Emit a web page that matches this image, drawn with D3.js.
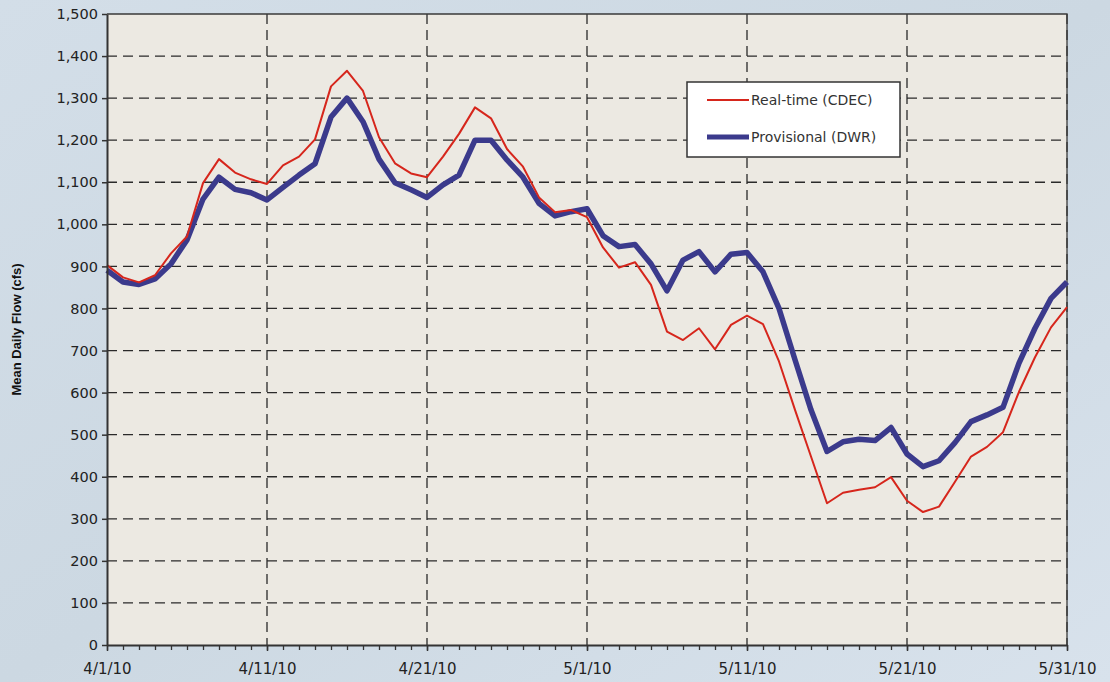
<!DOCTYPE html>
<html>
<head>
<meta charset="utf-8">
<script src="https://cdn.jsdelivr.net/npm/d3@7"></script>
<style>
  html, body { margin: 0; padding: 0; }
  body { width: 1110px; height: 682px; overflow: hidden; }
  svg { display: block; }
</style>
</head>
<body>
<svg id="chart" width="1110" height="682"></svg>
<script>
// ---- data ----
const startDate = new Date(2010, 3, 1);
const endDate = new Date(2010, 4, 31);
const days = d3.timeDay.range(startDate, d3.timeDay.offset(endDate, 1)); // 4/1/10 .. 5/31/10

const realTimeCDEC = [
  903, 874, 862, 879, 931, 971, 1098, 1155, 1123, 1107,
  1096, 1140, 1161, 1202, 1328, 1365, 1317, 1207, 1145, 1121,
  1112, 1161, 1215, 1278, 1252, 1179, 1137, 1064, 1029, 1034,
  1017, 945, 897, 910, 856, 745, 725, 753, 703, 761,
  783, 763, 674, 559, 448, 337, 362, 369, 375, 399,
  343, 316, 329, 388, 448, 471, 506, 602, 684, 755,
  803
];
const provisionalDWR = [
  891, 863, 857, 870, 906, 963, 1060, 1112, 1083, 1075,
  1058, 1088, 1117, 1144, 1255, 1300, 1244, 1155, 1099, 1082,
  1064, 1094, 1117, 1200, 1200, 1153, 1112, 1050, 1020, 1030,
  1037, 973, 947, 952, 906, 842, 915, 935, 887, 929,
  933, 887, 800, 678, 559, 460, 483, 489, 486, 517,
  454, 424, 438, 481, 531, 547, 565, 670, 753, 824,
  863
];
const seriesNames = ["Real-time (CDEC)", "Provisional (DWR)"];
const yTicks = [0, 100, 200, 300, 400, 500, 600, 700, 800, 900, 1000, 1100, 1200, 1300, 1400, 1500];
const xTickLabels = ["4/1/10", "4/11/10", "4/21/10", "5/1/10", "5/11/10", "5/21/10", "5/31/10"];
const yTitle = "Mean Daily Flow (cfs)";

// ---- layout ----
const svg = d3.select("#chart");
const L = 107, R = 1067, T = 14, B = 645;
const fontFam = "'DejaVu Sans', Verdana, sans-serif";

const defs = svg.append("defs");
const bg = defs.append("linearGradient").attr("id", "bg").attr("x1", 0).attr("y1", 0).attr("x2", 1).attr("y2", 1);
bg.append("stop").attr("offset", "0%").attr("stop-color", "#d3dee8");
bg.append("stop").attr("offset", "50%").attr("stop-color", "#ccd8e2");
bg.append("stop").attr("offset", "100%").attr("stop-color", "#d8e2ec");
svg.append("rect").attr("width", 1110).attr("height", 682).attr("fill", "url(#bg)");

const x = d3.scaleTime().domain([startDate, endDate]).range([L, R]);
const y = d3.scaleLinear().domain([0, 1500]).range([B, T]);

// plot area
svg.append("rect").attr("x", L).attr("y", T).attr("width", R - L).attr("height", B - T)
  .attr("fill", "#ece9e2");

const parseLbl = d3.timeParse("%m/%d/%y");
const xTickDates = xTickLabels.map(s => parseLbl(s));

// grid lines
const grid = svg.append("g");
grid.selectAll("line.h").data(yTicks.filter(v => v > 0 && v < 1500)).join("line")
  .attr("x1", L).attr("x2", R).attr("y1", d => y(d)).attr("y2", d => y(d))
  .attr("stroke", "#2a2a2a").attr("stroke-width", 1.3).attr("stroke-dasharray", "10,6");
grid.selectAll("line.v").data(xTickDates.slice(1)).join("line")
  .attr("x1", d => x(d)).attr("x2", d => x(d)).attr("y1", T).attr("y2", B)
  .attr("stroke", "#2a2a2a").attr("stroke-width", 1.3).attr("stroke-dasharray", "10,6");

// top/right border
svg.append("path").attr("d", `M${L},${T}H${R}V${B}`)
  .attr("fill", "none").attr("stroke", "#3a3a3a").attr("stroke-width", 1.3);

// series lines
const line = d3.line().x((d, i) => x(days[i])).y(d => y(d));
svg.append("path").datum(provisionalDWR).attr("d", line)
  .attr("fill", "none").attr("stroke", "#3b3a8c").attr("stroke-width", 5.5)
  .attr("stroke-linejoin", "round");
svg.append("path").datum(realTimeCDEC).attr("d", line)
  .attr("fill", "none").attr("stroke", "#d6261c").attr("stroke-width", 2)
  .attr("stroke-linejoin", "round");

// y axis
const yAxis = svg.append("g").attr("transform", `translate(${L},0)`)
  .call(d3.axisLeft(y).tickValues(yTicks).tickFormat(d3.format(",")).tickSize(5).tickSizeOuter(0).tickPadding(4));
yAxis.select(".domain").attr("stroke", "#333").attr("stroke-width", 2);
yAxis.selectAll(".tick line").attr("stroke", "#333").attr("stroke-width", 1.5);
yAxis.selectAll("text").attr("font-family", fontFam).attr("font-size", 14.5).attr("fill", "#222");

// x axis minor ticks (daily)
const xMinor = svg.append("g").attr("transform", `translate(0,${B})`)
  .call(d3.axisBottom(x).tickValues(days).tickSize(5).tickFormat(""));
xMinor.select(".domain").remove();
xMinor.selectAll(".tick line").attr("stroke", "#333").attr("stroke-width", 1.3);

// x axis major
const xAxis = svg.append("g").attr("transform", `translate(0,${B})`)
  .call(d3.axisBottom(x).tickValues(xTickDates).tickSize(6).tickSizeOuter(0)
    .tickFormat((d, i) => xTickLabels[i]).tickPadding(12));
xAxis.select(".domain").attr("stroke", "#333").attr("stroke-width", 2);
xAxis.selectAll(".tick line").attr("stroke", "#333").attr("stroke-width", 1.5);
xAxis.selectAll("text").attr("font-family", fontFam).attr("font-size", 15).attr("fill", "#222");

// y title
svg.append("text").attr("transform", `translate(21,${(T + B) / 2}) rotate(-90)`)
  .attr("text-anchor", "middle").attr("font-family", "'Liberation Sans', Arial, sans-serif")
  .attr("font-weight", "bold").attr("font-size", 13).attr("fill", "#111").text(yTitle);

// legend
const lg = svg.append("g");
lg.append("rect").attr("x", 687).attr("y", 82).attr("width", 213).attr("height", 75)
  .attr("fill", "#ffffff").attr("stroke", "#333").attr("stroke-width", 1.5);
const legendItems = [
  { name: seriesNames[0], color: "#d6261c", w: 2, yy: 100 },
  { name: seriesNames[1], color: "#3b3a8c", w: 5, yy: 137 }
];
legendItems.forEach(it => {
  lg.append("line").attr("x1", 707).attr("x2", 749).attr("y1", it.yy).attr("y2", it.yy)
    .attr("stroke", it.color).attr("stroke-width", it.w);
  lg.append("text").attr("x", 751).attr("y", it.yy + 5).attr("font-family", fontFam)
    .attr("font-size", 14).attr("fill", "#333").text(it.name);
});
</script>
</body>
</html>
